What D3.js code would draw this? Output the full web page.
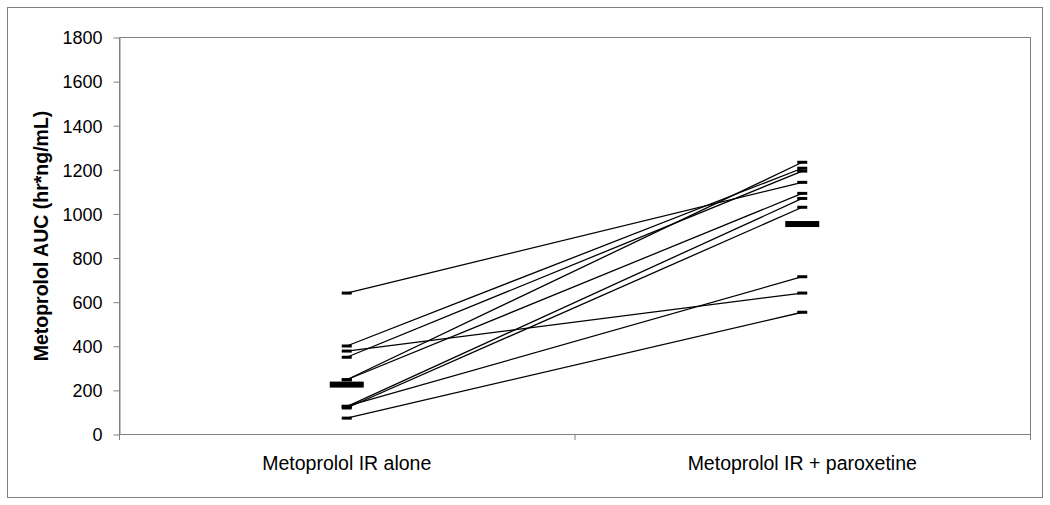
<!DOCTYPE html>
<html>
<head>
<meta charset="utf-8">
<script src="https://cdn.jsdelivr.net/npm/d3@7"></script>
<style>
  body { margin: 0; background: #fff; }
  text { font-family: Arial, "Liberation Sans", sans-serif; fill: #000; }
</style>
</head>
<body>
<div id="chart"></div>
<script>
// each subject: AUC alone and AUC with paroxetine (same index = same subject)
var categories = ["Metoprolol IR alone", "Metoprolol IR + paroxetine"];
var aucAlone = [639, 399, 348, 376, 246, 246, 124, 118, 126, 72];
var aucParox = [1141, 1205, 1192, 639, 1232, 1091, 1068, 1028, 713, 552];
var meanAuc = [224, 952];
var yTicks = [0, 200, 400, 600, 800, 1000, 1200, 1400, 1600, 1800];
var yLabel = "Metoprolol AUC (hr*ng/mL)";

var width = 1050, height = 505;
var plot = { left: 119, right: 1030, top: 37, bottom: 434 };
var frameColor = "#808080";

var svg = d3.select("#chart").append("svg")
    .attr("width", width)
    .attr("height", height);

// outer frame
svg.append("rect")
    .attr("x", 7.5).attr("y", 7.5)
    .attr("width", 1035).attr("height", 490)
    .attr("fill", "none")
    .attr("stroke", frameColor);

var x = d3.scaleBand()
    .domain(categories)
    .range([plot.left, plot.right]);

var y = d3.scaleLinear()
    .domain([0, 1800])
    .range([plot.bottom, plot.top]);

// plot area border
svg.append("rect")
    .attr("x", plot.left + 0.5).attr("y", plot.top + 0.5)
    .attr("width", plot.right - plot.left).attr("height", plot.bottom - plot.top)
    .attr("fill", "none")
    .attr("stroke", frameColor);

// y axis
var yAxis = svg.append("g")
    .attr("transform", "translate(" + (plot.left + 0.5) + ",0.5)")
    .call(d3.axisLeft(y)
        .tickValues(yTicks)
        .tickFormat(d3.format("d"))
        .tickSize(6)
        .tickSizeOuter(0)
        .tickPadding(11));
yAxis.select(".domain").attr("stroke", frameColor);
yAxis.selectAll(".tick line").attr("stroke", frameColor);
yAxis.selectAll("text")
    .style("font-size", "18px")
    .style("font-family", "Arial, 'Liberation Sans', sans-serif")
    .attr("dy", "0.35em");

// x axis: ticks at band edges, labels at band centres
var edges = categories.map(function(c) { return x(c); }).concat([plot.right]);
svg.append("g").selectAll("line")
    .data(edges)
    .enter().append("line")
    .attr("x1", function(d) { return d + 0.5; })
    .attr("x2", function(d) { return d + 0.5; })
    .attr("y1", plot.bottom + 0.5).attr("y2", plot.bottom + 6)
    .attr("stroke", frameColor);

svg.append("g").selectAll("text")
    .data(categories)
    .enter().append("text")
    .attr("x", function(d) { return x(d) + x.bandwidth() / 2; })
    .attr("y", 470)
    .attr("text-anchor", "middle")
    .style("font-size", "19.5px")
    .text(function(d) { return d; });

// y label
svg.append("text")
    .attr("transform", "translate(48,236) rotate(-90)")
    .attr("text-anchor", "middle")
    .style("font-size", "19.5px")
    .style("font-weight", "bold")
    .text(yLabel);

var cx0 = x(categories[0]) + x.bandwidth() / 2;
var cx1 = x(categories[1]) + x.bandwidth() / 2;

// subject lines
var subjects = aucAlone.map(function(v, i) { return { a: v, b: aucParox[i] }; });
svg.append("g").selectAll("line")
    .data(subjects)
    .enter().append("line")
    .attr("x1", cx0).attr("x2", cx1)
    .attr("y1", function(d) { return y(d.a); })
    .attr("y2", function(d) { return y(d.b); })
    .attr("stroke", "#000")
    .attr("stroke-width", 1.3);

// individual markers
var markW = 10, markH = 3;
function drawMarks(values, cx) {
    svg.append("g").selectAll("rect")
        .data(values)
        .enter().append("rect")
        .attr("x", cx - markW / 2)
        .attr("y", function(d) { return y(d) - markH / 2; })
        .attr("width", markW)
        .attr("height", markH)
        .attr("fill", "#000");
}
drawMarks(aucAlone, cx0);
drawMarks(aucParox, cx1);

// mean markers
var meanW = 34, meanH = 6;
svg.append("g").selectAll("rect")
    .data(meanAuc)
    .enter().append("rect")
    .attr("x", function(d, i) { return (i === 0 ? cx0 : cx1) - meanW / 2; })
    .attr("y", function(d) { return y(d) - meanH / 2; })
    .attr("width", meanW)
    .attr("height", meanH)
    .attr("fill", "#000");
</script>
</body>
</html>
